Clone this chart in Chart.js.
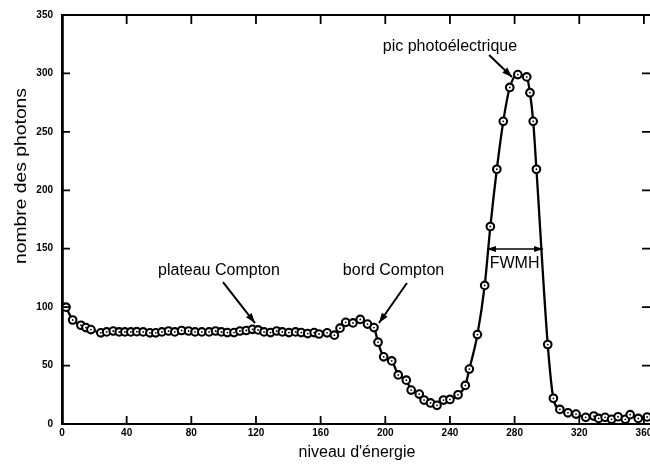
<!DOCTYPE html>
<html>
<head>
<meta charset="utf-8">
<script src="https://cdn.jsdelivr.net/npm/chart.js@4/dist/chart.umd.min.js"></script>
<style>
  html, body { margin: 0; padding: 0; overflow: hidden; background: #fff; }
  #wrap { position: absolute; left: 0; top: 0; width: 680px; height: 464px; }
</style>
</head>
<body>
<div id="wrap"><canvas id="spectre"></canvas></div>
<script>
// spectre gamma : niveau d'energie / nombre de photons
const energie = [
  2.5, 6.6, 11.7, 14.8, 17.9, 24, 27.6, 31.7, 35.4, 38.9, 42.6, 46.3, 50.2, 54.4, 58,
  61.8, 65.9, 69.8, 74, 78.3, 82.3, 86.5, 91, 95, 98.6, 102.3, 106.4, 110.1, 114,
  117.8, 121.3, 125, 129, 132.8, 136.3, 140.4, 144.5, 148, 152, 156, 159, 164, 168.5,
  172, 175.5, 180, 184.5, 189, 193, 195.5, 199, 204, 208, 213, 216, 221, 224, 228,
  232, 236, 240, 245, 249.5, 252, 257, 261.5, 265, 269, 273, 277, 282, 287.5, 289.5,
  291.5, 293.5, 300.5, 304, 308, 313, 318, 324, 329, 332, 336, 340, 344, 348.5,
  351.5, 356.5, 362
];
const photons = [
  100, 89, 84.5, 82.5, 80.8, 78, 78.8, 79.6, 78.8, 78.8, 78.8, 79, 78.8, 78, 78,
  78.8, 79.6, 78.8, 80, 79.6, 78.8, 78.8, 78.8, 79.6, 78.8, 78.2, 78.2, 79.6, 80,
  81, 80.5, 78.8, 78.2, 79.6, 78.8, 78.2, 78.8, 78.2, 77.4, 78.2, 77, 78, 76,
  82, 87, 86.5, 89.5, 85.5, 82.5, 70, 57.5, 54, 42, 37.5, 29, 25.6, 20.5, 18,
  16, 20.5, 21, 25, 33, 47, 76.5, 118.6, 169, 218, 259, 288, 299, 297, 283.5,
  259, 218, 68, 22, 12.5, 9.6, 8.5, 5.7, 6.8, 4.8, 5.7, 4, 6.2, 4,
  8, 4.8, 6
];
const xLimits = [0, 365];
const yLimits = [0, 350];
const xStep = 40;
const yStep = 50;

// annotations (coordonnees dans le repere des donnees)
const noteTexts = ['pic photoélectrique', 'plateau Compton', 'bord Compton', 'FWMH'];
const noteAt = [[240, 319.2], [97.1, 127.5], [205.1, 127.5], [280, 133.4]];
const arrows = [
  [[264.2, 315.8], [278.4, 296.9]],
  [[99.6, 121.5], [119.4, 86.4]],
  [[213.4, 120.7], [196.1, 86.4]]
];
const fwhm = [262.9, 297.6, 149.8];

const points = energie.map((e, i) => ({ x: e, y: photons[i] }));
const FONT = "'Liberation Sans', Arial, sans-serif";
const tickFont = { family: FONT, size: 10, weight: 'bold' };

function arrowHead(ctx, x0, y0, x1, y1, len, half) {
  const a = Math.atan2(y1 - y0, x1 - x0);
  ctx.beginPath();
  ctx.moveTo(x1, y1);
  ctx.lineTo(x1 - len * Math.cos(a) + half * Math.sin(a), y1 - len * Math.sin(a) - half * Math.cos(a));
  ctx.lineTo(x1 - len * Math.cos(a) - half * Math.sin(a), y1 - len * Math.sin(a) + half * Math.cos(a));
  ctx.closePath();
  ctx.fill();
}

// petites graduations tournees vers l'interieur, sur les quatre cotes
const inwardTicks = {
  id: 'inwardTicks',
  afterDraw(chart) {
    const { ctx, chartArea: a, scales } = chart;
    ctx.save();
    ctx.strokeStyle = '#000';
    ctx.lineWidth = 1.8;
    ctx.beginPath();
    scales.x.ticks.forEach(t => {
      const px = scales.x.getPixelForValue(t.value);
      ctx.moveTo(px, a.bottom); ctx.lineTo(px, a.bottom - 8);
      ctx.moveTo(px, a.top); ctx.lineTo(px, a.top + 9);
    });
    scales.y.ticks.forEach(t => {
      const py = scales.y.getPixelForValue(t.value);
      ctx.moveTo(a.left, py); ctx.lineTo(a.left + 8, py);
      ctx.moveTo(a.right, py); ctx.lineTo(a.right - 10, py);
    });
    ctx.stroke();
    ctx.restore();
  }
};

const notes = {
  id: 'notes',
  afterDraw(chart) {
    const { ctx, scales: { x, y } } = chart;
    ctx.save();
    ctx.fillStyle = '#000';
    ctx.strokeStyle = '#000';
    ctx.font = '16px ' + FONT;
    ctx.textAlign = 'center';
    ctx.textBaseline = 'alphabetic';
    noteTexts.forEach((t, i) => {
      ctx.fillText(t, x.getPixelForValue(noteAt[i][0]), y.getPixelForValue(noteAt[i][1]));
    });

    ctx.lineWidth = 2;
    arrows.forEach(([p0, p1]) => {
      const x0 = x.getPixelForValue(p0[0]), y0 = y.getPixelForValue(p0[1]);
      const x1 = x.getPixelForValue(p1[0]), y1 = y.getPixelForValue(p1[1]);
      ctx.beginPath();
      ctx.moveTo(x0, y0);
      ctx.lineTo(x1, y1);
      ctx.stroke();
      arrowHead(ctx, x0, y0, x1, y1, 10, 3.5);
    });

    // largeur a mi-hauteur
    const fx0 = x.getPixelForValue(fwhm[0]), fx1 = x.getPixelForValue(fwhm[1]);
    const fy = y.getPixelForValue(fwhm[2]);
    ctx.lineWidth = 1.5;
    ctx.beginPath();
    ctx.moveTo(fx0, fy);
    ctx.lineTo(fx1, fy);
    ctx.stroke();
    arrowHead(ctx, fx1, fy, fx0, fy, 9, 3);
    arrowHead(ctx, fx0, fy, fx1, fy, 9, 3);

    // titre vertical, etire comme sur la figure
    const title = 'nombre des photons';
    ctx.translate(26, 176);
    ctx.rotate(-Math.PI / 2);
    const w = ctx.measureText(title).width;
    ctx.scale(176 / w, 1);
    ctx.fillText(title, 0, 0);
    ctx.restore();
  }
};

new Chart(document.getElementById('spectre').getContext('2d'), {
  type: 'scatter',
  data: {
    datasets: [
      {
        data: points,
        showLine: false,
        pointRadius: 0.9,
        pointBackgroundColor: '#000',
        pointBorderWidth: 0
      },
      {
        data: points,
        showLine: false,
        pointRadius: 3.8,
        pointBorderWidth: 2.1,
        pointBorderColor: '#000',
        pointBackgroundColor: '#fff'
      },
      {
        data: points,
        showLine: true,
        borderColor: '#000',
        borderWidth: 2.3,
        pointRadius: 0,
        cubicInterpolationMode: 'monotone',
        fill: false
      }
    ]
  },
  options: {
    responsive: true,
    maintainAspectRatio: false,
    animation: false,
    events: [],
    layout: { padding: 0 },
    plugins: {
      legend: { display: false },
      tooltip: { enabled: false }
    },
    scales: {
      x: {
        type: 'linear',
        position: 'bottom',
        min: xLimits[0],
        max: xLimits[1],
        ticks: {
          stepSize: xStep,
          includeBounds: false,
          autoSkip: false,
          maxRotation: 0,
          padding: 3,
          color: '#000',
          font: tickFont
        },
        grid: { display: false, drawTicks: false },
        border: { display: true, color: '#000', width: 2 },
        title: {
          display: true,
          text: "niveau d'énergie",
          color: '#000',
          font: { family: FONT, size: 16 },
          padding: { top: 0, bottom: 2 }
        },
        afterFit(s) { s.height = 40; }
      },
      y: {
        type: 'linear',
        position: 'left',
        min: yLimits[0],
        max: yLimits[1],
        ticks: {
          stepSize: yStep,
          padding: 9,
          color: '#000',
          font: tickFont
        },
        grid: { display: false, drawTicks: false },
        border: { display: true, color: '#000', width: 2.8 },
        afterFit(s) { s.width = 62; }
      },
      x2: {
        type: 'linear',
        position: 'top',
        min: xLimits[0],
        max: xLimits[1],
        ticks: { display: false },
        grid: { display: false, drawTicks: false },
        border: { display: true, color: '#000', width: 2 },
        afterFit(s) { s.height = 15; }
      },
      y2: {
        type: 'linear',
        position: 'right',
        min: yLimits[0],
        max: yLimits[1],
        ticks: { display: false },
        grid: { display: false, drawTicks: false },
        border: { display: false },
        afterFit(s) { s.width = 28; }
      }
    }
  },
  plugins: [inwardTicks, notes]
});
</script>
</body>
</html>
